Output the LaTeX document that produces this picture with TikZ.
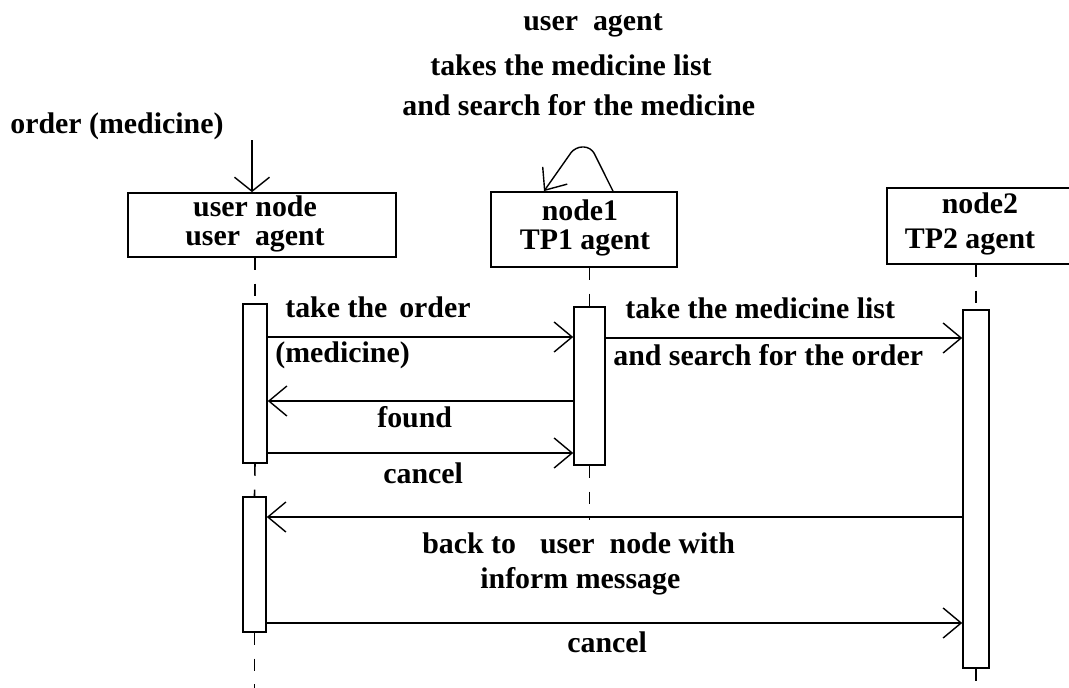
\documentclass[tikz,border=0pt]{standalone}
\usepackage{fontspec}
\setmainfont{Liberation Serif}
\usetikzlibrary{arrows.meta,fit}
\begin{document}
\begin{tikzpicture}[x=0.02cm,y=-0.02cm,
  txt/.style={font=\fontsize{17pt}{20pt}\selectfont\bfseries, inner sep=0pt, anchor=base west},
  ctxt/.style={txt, anchor=base},
  box/.style={draw, line width=1pt, inner sep=0pt},
  act/.style={draw, line width=0.9pt, inner sep=0pt, fill=white},
  msg/.style={line width=0.8pt, -{Straight Barb[length=0.36cm,width=0.6cm]}},
  life/.style={line width=0.9pt, dash pattern=on 6.8pt off 7.9pt}]
\clip (0,0) rectangle (1069,687);
\fill[white] (0,0) rectangle (1069,687);

% object boxes
\node[box, fit={(128,193) (396,257)}] (ubox) {};
\node[box, fit={(491,192) (677,267)}] (n1box) {};
\node[box, fit={(887,188) (1100,264)}] (n2box) {};

\node[ctxt] (ubt1) at (255,216) {user node};
\node[ctxt] (ubt2) at (255,245) {user\ \ agent};
\node[ctxt] (n1t1) at (580,220) {node1};
\node[ctxt] (n1t2) at (585,249) {TP1 agent};
\node[ctxt] (n2t1) at (980,213) {node2};
\node[ctxt] (n2t2) at (970,248) {TP2 agent};

% activation boxes
\node[act, fit={(243,304) (267,463)}] (uA1) {};
\node[act, fit={(243,497) (266,632)}] (uA2) {};
\node[act, fit={(574,307) (605,465)}] (nA) {};
\node[act, fit={(963,310) (989,668)}] (n2A) {};

% lifelines
\coordinate (bottom) at (0,690);
\coordinate (n1end) at (0,520);
\draw[life] (uA1 |- ubox.south) -- (uA1.north);
\draw[life] (uA1.south) -- (uA2.north);
\draw[life] (uA2.south) -- (uA2 |- bottom);
\draw[life] (nA |- n1box.south) -- (nA.north);
\draw[life] (nA.south) -- (nA |- n1end);
\draw[life] (n2A |- n2box.south) -- (n2A.north);
\draw[life] (n2A.south) -- (n2A |- bottom);

% top labels
\node[txt] (tl1) at (523,30) {user\ \ agent};
\node[txt] (tl2) at (430,75) {takes the medicine list};
\node[txt] (tl3) at (402,115) {and search for the medicine};
\node[txt] (ord) at (10,133) {order (medicine)};

% incoming order arrow
\coordinate (ordstart) at (252,140);
\draw[line width=0.8pt, -{Straight Barb[length=0.28cm,width=0.7cm]}] (ordstart) -- (ordstart |- ubox.north);

% self loop on node1
\coordinate (lsx) at (613,0);
\coordinate (lex) at (544,0);
\draw[msg, rounded corners=4pt] (n1box.north -| lsx) -- (591,147) -- (575,147) -- (n1box.north -| lex);

% messages
\coordinate (m1) at (0,337);
\coordinate (m2) at (0,338);
\coordinate (m3) at (0,401);
\coordinate (m4) at (0,453);
\coordinate (m5) at (0,517);
\coordinate (m6) at (0,623);
\draw[msg] (uA1.east |- m1) -- (nA.west |- m1);
\draw[msg] (nA.east |- m2) -- (n2A.west |- m2);
\draw[msg] (nA.west |- m3) -- (uA1.east |- m3);
\draw[msg] (uA1.east |- m4) -- (nA.west |- m4);
\draw[msg] (n2A.west |- m5) -- (uA2.east |- m5);
\draw[msg] (uA2.east |- m6) -- (n2A.west |- m6);

% message labels
\node[txt] (l1a) at (285,317) {take the\hspace{0.4em}order};
\node[txt] (l1b) at (275,362) {(medicine)};
\node[txt] (l2a) at (625,318) {take the medicine list};
\node[txt] (l2b) at (613,365) {and search for the order};
\node[txt] (l3) at (377,427) {found};
\node[txt] (l4) at (383,483) {cancel};
\node[txt] (l5a) at (422,553) {back to\hspace{0.8em}user\hspace{0.5em}node with};
\node[txt] (l5b) at (480,588) {inform message};
\node[txt] (l6) at (567,652) {cancel};
\end{tikzpicture}
\end{document}
